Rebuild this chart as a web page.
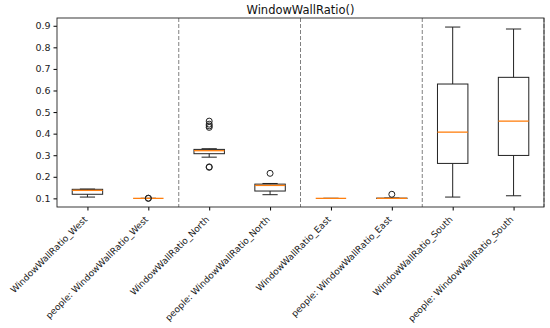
<!DOCTYPE html>
<html>
<head>
<meta charset="utf-8">
<script src="https://cdn.jsdelivr.net/npm/d3@7"></script>
<style>
  body { margin: 0; background: #fff; }
  svg { display: block; font-family: "DejaVu Sans", sans-serif; }
</style>
</head>
<body>
<script>
const labels = [
  "WindowWallRatio_West",
  "people: WindowWallRatio_West",
  "WindowWallRatio_North",
  "people: WindowWallRatio_North",
  "WindowWallRatio_East",
  "people: WindowWallRatio_East",
  "WindowWallRatio_South",
  "people: WindowWallRatio_South",
];
const lowWhisker = [0.106, 0.1, 0.291, 0.117, 0.1, 0.1, 0.106, 0.112];
const q1 = [0.119, 0.1, 0.307, 0.134, 0.1, 0.1, 0.262, 0.299];
const medians = [0.137, 0.1, 0.321, 0.16, 0.1, 0.1, 0.407, 0.458];
const q3 = [0.142, 0.1, 0.327, 0.166, 0.1, 0.101, 0.63, 0.661];
const highWhisker = [0.143, 0.1, 0.33, 0.169, 0.1, 0.101, 0.894, 0.885];
const fliers = [
  [],
  [0.1, 0.101],
  [0.429, 0.436, 0.444, 0.458, 0.244, 0.246],
  [0.216],
  [],
  [0.119],
  [],
  [],
];
const separators = [2.5, 4.5, 6.5, 8.5];
const yTicks = [0.1, 0.2, 0.3, 0.4, 0.5, 0.6, 0.7, 0.8, 0.9];

const width = 550;
const height = 328;
const margin = { top: 18, right: 6, bottom: 121, left: 57 };
const boxWidth = 0.5;

const svg = d3
  .select("body")
  .append("svg")
  .attr("width", width)
  .attr("height", height);

const xScale = d3
  .scaleLinear()
  .domain([0.5, 8.5])
  .range([margin.left, width - margin.right]);

const yScale = d3
  .scaleLinear()
  .domain([0.06, 0.936])
  .range([height - margin.bottom, margin.top]);

const boxes = labels.map((label, i) => ({
  pos: i + 1,
  label,
  low: lowWhisker[i],
  q1: q1[i],
  med: medians[i],
  q3: q3[i],
  high: highWhisker[i],
  fliers: fliers[i],
}));

const half = xScale(1 + boxWidth / 2) - xScale(1);
const capHalf = half / 2;

// separators
svg
  .selectAll(".sep")
  .data(separators)
  .enter()
  .append("line")
  .attr("x1", (d) => xScale(d))
  .attr("x2", (d) => xScale(d))
  .attr("y1", margin.top)
  .attr("y2", height - margin.bottom)
  .attr("stroke", "#808080")
  .attr("stroke-width", 1)
  .attr("stroke-dasharray", "4,2");

const g = svg
  .selectAll(".box")
  .data(boxes)
  .enter()
  .append("g")
  .attr("class", "box");

// whiskers
g.append("line")
  .attr("x1", (d) => xScale(d.pos))
  .attr("x2", (d) => xScale(d.pos))
  .attr("y1", (d) => yScale(d.low))
  .attr("y2", (d) => yScale(d.q1))
  .attr("stroke", "#222");
g.append("line")
  .attr("x1", (d) => xScale(d.pos))
  .attr("x2", (d) => xScale(d.pos))
  .attr("y1", (d) => yScale(d.q3))
  .attr("y2", (d) => yScale(d.high))
  .attr("stroke", "#222");

// caps
g.append("line")
  .attr("x1", (d) => xScale(d.pos) - capHalf)
  .attr("x2", (d) => xScale(d.pos) + capHalf)
  .attr("y1", (d) => yScale(d.low))
  .attr("y2", (d) => yScale(d.low))
  .attr("stroke", "#222");
g.append("line")
  .attr("x1", (d) => xScale(d.pos) - capHalf)
  .attr("x2", (d) => xScale(d.pos) + capHalf)
  .attr("y1", (d) => yScale(d.high))
  .attr("y2", (d) => yScale(d.high))
  .attr("stroke", "#222");

// box
g.append("rect")
  .attr("x", (d) => xScale(d.pos) - half)
  .attr("width", half * 2)
  .attr("y", (d) => yScale(d.q3))
  .attr("height", (d) => yScale(d.q1) - yScale(d.q3))
  .attr("fill", "none")
  .attr("stroke", "#222");

// median
g.append("line")
  .attr("x1", (d) => xScale(d.pos) - half)
  .attr("x2", (d) => xScale(d.pos) + half)
  .attr("y1", (d) => yScale(d.med))
  .attr("y2", (d) => yScale(d.med))
  .attr("stroke", "#ff7f0e")
  .attr("stroke-width", 1.3);

// fliers
g.selectAll(".flier")
  .data((d) => d.fliers.map((v) => ({ pos: d.pos, v })))
  .enter()
  .append("circle")
  .attr("cx", (d) => xScale(d.pos))
  .attr("cy", (d) => yScale(d.v))
  .attr("r", 3)
  .attr("fill", "none")
  .attr("stroke", "#222");

// axes
const yAxis = d3
  .axisLeft(yScale)
  .tickValues(yTicks)
  .tickFormat(d3.format(".1f"))
  .tickSize(3.5)
  .tickPadding(3);

svg
  .append("g")
  .attr("transform", `translate(${margin.left}, 0)`)
  .call(yAxis)
  .call((a) => a.select(".domain").remove())
  .selectAll("text")
  .style("font-size", "9.5px")
  .style("font-family", "DejaVu Sans")
  .attr("fill", "#222");

const xAxis = d3
  .axisBottom(xScale)
  .tickValues(boxes.map((d) => d.pos))
  .tickFormat((d) => labels[d - 1])
  .tickSize(3.5)
  .tickPadding(3);

svg
  .append("g")
  .attr("transform", `translate(0, ${height - margin.bottom})`)
  .call(xAxis)
  .call((a) => a.select(".domain").remove())
  .selectAll("text")
  .style("font-size", "9px")
  .style("font-family", "DejaVu Sans")
  .attr("fill", "#222")
  .attr("text-anchor", "end")
  .attr("y", 0)
  .attr("dy", 0)
  .attr("transform", "translate(0, 13) rotate(-45)");

// frame
svg
  .append("rect")
  .attr("x", margin.left)
  .attr("y", margin.top)
  .attr("width", width - margin.left - margin.right)
  .attr("height", height - margin.top - margin.bottom)
  .attr("fill", "none")
  .attr("stroke", "#222")
  .attr("stroke-width", 0.9);

svg
  .append("text")
  .text("WindowWallRatio()")
  .attr("x", (margin.left + width - margin.right) / 2)
  .attr("y", 13.5)
  .attr("text-anchor", "middle")
  .style("font-size", "11.5px")
  .attr("fill", "#111");
</script>
</body>
</html>
